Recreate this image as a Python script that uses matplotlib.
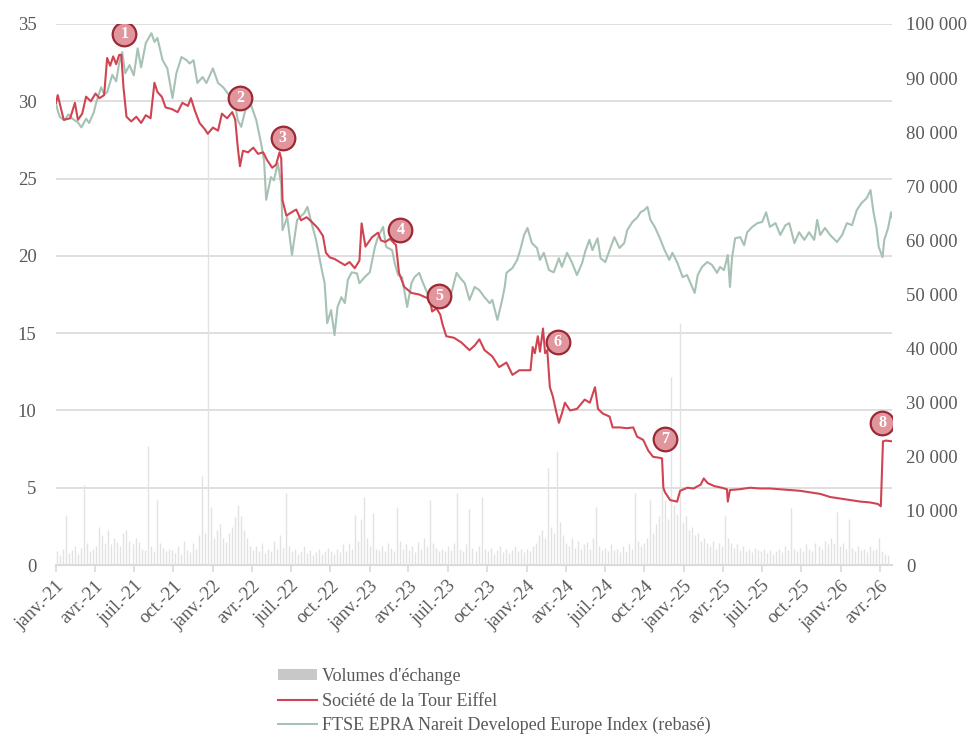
import matplotlib
matplotlib.use("Agg")
import matplotlib.pyplot as plt
from matplotlib.patches import Patch
from matplotlib.lines import Line2D
import numpy as np
import pandas as pd

plt.rcParams["font.family"] = ["Liberation Serif", "DejaVu Serif"]

# --- data ---
# Société de la Tour Eiffel share price, left axis (EUR)
stfe_dates = [
    "2021-01-01", "2021-01-05", "2021-01-12", "2021-01-19", "2021-02-03", "2021-02-14", "2021-02-21",
    "2021-03-03", "2021-03-12", "2021-03-23", "2021-04-03", "2021-04-12", "2021-04-23", "2021-04-30",
    "2021-05-07", "2021-05-14", "2021-05-21", "2021-05-28", "2021-06-02", "2021-06-07", "2021-06-14",
    "2021-06-25", "2021-07-07", "2021-07-18", "2021-07-29", "2021-08-09", "2021-08-18", "2021-08-25",
    "2021-09-04", "2021-09-13", "2021-09-27", "2021-10-11", "2021-10-22", "2021-11-04", "2021-11-11",
    "2021-11-20", "2021-12-01", "2021-12-13", "2021-12-20", "2022-01-01", "2022-01-13", "2022-01-22",
    "2022-02-03", "2022-02-15", "2022-02-22", "2022-02-28", "2022-03-05", "2022-03-12", "2022-03-24",
    "2022-04-05", "2022-04-16", "2022-04-28", "2022-05-07", "2022-05-19", "2022-05-28", "2022-06-05",
    "2022-06-09", "2022-06-12", "2022-06-21", "2022-07-02", "2022-07-14", "2022-07-25", "2022-08-07",
    "2022-08-19", "2022-09-02", "2022-09-14", "2022-09-21", "2022-09-30", "2022-10-11", "2022-10-23",
    "2022-11-04", "2022-11-15", "2022-11-27", "2022-12-08", "2022-12-13", "2022-12-22", "2023-01-06",
    "2023-01-20", "2023-01-27", "2023-02-06", "2023-02-17", "2023-03-03", "2023-03-10", "2023-03-22",
    "2023-04-08", "2023-04-26", "2023-05-12", "2023-05-21", "2023-05-26", "2023-06-05", "2023-06-14",
    "2023-06-19", "2023-06-28", "2023-07-16", "2023-08-02", "2023-08-21", "2023-09-02", "2023-09-13",
    "2023-09-25", "2023-10-13", "2023-10-29", "2023-11-15", "2023-11-29", "2023-12-15", "2024-01-10",
    "2024-01-15", "2024-01-20", "2024-01-27", "2024-02-01", "2024-02-08", "2024-02-13", "2024-02-18",
    "2024-02-24", "2024-03-02", "2024-03-09", "2024-03-16", "2024-03-23", "2024-03-30", "2024-04-11",
    "2024-04-27", "2024-05-15", "2024-05-27", "2024-06-08", "2024-06-15", "2024-06-26", "2024-07-12",
    "2024-07-19", "2024-08-05", "2024-08-21", "2024-09-05", "2024-09-14", "2024-09-28", "2024-10-10",
    "2024-10-21", "2024-11-02", "2024-11-11", "2024-11-14", "2024-11-18", "2024-11-30", "2024-12-16",
    "2024-12-23", "2025-01-09", "2025-01-23", "2025-02-09", "2025-02-16", "2025-02-25", "2025-03-13",
    "2025-03-30", "2025-04-11", "2025-04-13", "2025-04-18", "2025-05-10", "2025-06-04", "2025-06-27",
    "2025-07-20", "2025-08-12", "2025-09-05", "2025-09-28", "2025-10-22", "2025-11-14", "2025-12-07",
    "2025-12-30", "2026-01-23", "2026-02-16", "2026-03-09", "2026-03-28", "2026-04-04", "2026-04-09",
    "2026-04-16", "2026-04-30",
]
stfe_price = [
    29.9, 30.4, 29.6, 28.8, 28.9, 29.9, 28.8,
    29.2, 30.3, 30.0, 30.5, 30.2, 30.4, 32.8,
    32.3, 32.9, 32.4, 33.0, 33.0, 30.9, 29.0,
    28.7, 29.0, 28.6, 29.1, 28.9, 31.2, 30.6,
    30.3, 29.6, 29.5, 29.3, 29.9, 29.7, 30.2,
    29.4, 28.6, 28.2, 27.9, 28.3, 28.1, 29.2,
    28.9, 29.3, 28.8, 27.0, 25.8, 26.8, 26.7,
    27.0, 26.6, 26.7, 26.2, 25.7, 25.9, 26.7,
    26.3, 23.6, 22.6, 22.8, 23.0, 22.3, 22.5,
    22.2, 21.8, 21.3, 20.2, 19.9, 19.8, 19.6,
    19.4, 19.6, 19.2, 19.7, 22.1, 20.6, 21.2,
    21.5, 21.0, 20.9, 21.1, 20.7, 18.9, 18.0,
    17.6, 17.5, 17.3, 17.2, 16.4, 16.6, 16.2,
    15.6, 14.8, 14.7, 14.4, 13.9, 14.2, 14.6,
    13.9, 13.5, 12.8, 13.1, 12.3, 12.6, 12.6,
    14.1, 13.7, 14.8, 13.8, 15.3, 13.7, 13.9,
    11.5, 10.9, 10.0, 9.2, 9.8, 10.5, 10.0,
    10.1, 10.7, 10.5, 11.5, 10.1, 9.8, 9.6,
    8.9, 8.9, 8.85, 8.9, 8.3, 8.1, 7.4,
    7.0, 6.95, 6.9, 5.0, 4.7, 4.2, 4.1,
    4.8, 5.0, 4.95, 5.2, 5.6, 5.3, 5.1,
    5.0, 4.9, 4.1, 4.85, 4.9, 5.0, 4.95,
    4.95, 4.9, 4.85, 4.8, 4.7, 4.6, 4.4,
    4.3, 4.2, 4.1, 4.05, 3.95, 3.8, 8.0,
    8.05, 8.0,
]

# FTSE EPRA Nareit Developed Europe (rebased), right axis
epra_dates = [
    "2021-01-01", "2021-01-05", "2021-01-10", "2021-01-21", "2021-01-30", "2021-02-08", "2021-02-21",
    "2021-03-01", "2021-03-12", "2021-03-19", "2021-03-30", "2021-04-05", "2021-04-16", "2021-04-23",
    "2021-04-30", "2021-05-12", "2021-05-21", "2021-05-28", "2021-06-04", "2021-06-11", "2021-06-21",
    "2021-07-01", "2021-07-10", "2021-07-18", "2021-07-29", "2021-08-11", "2021-08-18", "2021-08-25",
    "2021-09-06", "2021-09-17", "2021-09-29", "2021-10-08", "2021-10-20", "2021-11-01", "2021-11-08",
    "2021-11-17", "2021-11-26", "2021-12-08", "2021-12-17", "2022-01-01", "2022-01-13", "2022-01-25",
    "2022-02-11", "2022-02-22", "2022-02-28", "2022-03-08", "2022-03-19", "2022-03-31", "2022-04-12",
    "2022-04-23", "2022-04-30", "2022-05-05", "2022-05-16", "2022-05-23", "2022-06-01", "2022-06-09",
    "2022-06-12", "2022-06-23", "2022-07-04", "2022-07-16", "2022-08-01", "2022-08-09", "2022-08-15",
    "2022-08-29", "2022-09-10", "2022-09-18", "2022-09-24", "2022-10-03", "2022-10-11", "2022-10-18",
    "2022-10-27", "2022-11-04", "2022-11-11", "2022-11-20", "2022-12-02", "2022-12-08", "2022-12-20",
    "2023-01-01", "2023-01-13", "2023-01-20", "2023-02-01", "2023-02-08", "2023-02-22", "2023-02-28",
    "2023-03-08", "2023-03-17", "2023-03-29", "2023-04-08", "2023-04-15", "2023-04-26", "2023-05-03",
    "2023-05-12", "2023-05-19", "2023-06-01", "2023-06-17", "2023-06-28", "2023-07-10", "2023-07-22",
    "2023-07-29", "2023-08-10", "2023-08-21", "2023-09-02", "2023-09-13", "2023-09-25", "2023-10-07",
    "2023-10-13", "2023-10-25", "2023-11-05", "2023-11-11", "2023-11-15", "2023-11-29", "2023-12-10",
    "2023-12-17", "2023-12-26", "2024-01-03", "2024-01-13", "2024-01-25", "2024-02-01", "2024-02-10",
    "2024-02-22", "2024-03-04", "2024-03-16", "2024-03-23", "2024-04-04", "2024-04-15", "2024-04-27",
    "2024-05-09", "2024-05-16", "2024-05-26", "2024-06-02", "2024-06-14", "2024-06-21", "2024-07-02",
    "2024-07-14", "2024-07-23", "2024-08-04", "2024-08-15", "2024-08-22", "2024-09-03", "2024-09-15",
    "2024-09-22", "2024-10-01", "2024-10-08", "2024-10-15", "2024-10-25", "2024-11-05", "2024-11-17",
    "2024-11-28", "2024-12-05", "2024-12-17", "2024-12-29", "2025-01-08", "2025-01-21", "2025-01-26",
    "2025-02-02", "2025-02-12", "2025-02-24", "2025-03-07", "2025-03-19", "2025-03-26", "2025-04-04",
    "2025-04-13", "2025-04-18", "2025-04-23", "2025-04-30", "2025-05-12", "2025-05-21", "2025-05-28",
    "2025-06-09", "2025-06-21", "2025-07-02", "2025-07-11", "2025-07-20", "2025-08-02", "2025-08-13",
    "2025-08-25", "2025-09-03", "2025-09-15", "2025-09-26", "2025-10-08", "2025-10-19", "2025-10-31",
    "2025-11-07", "2025-11-14", "2025-11-25", "2025-12-07", "2025-12-23", "2026-01-04", "2026-01-15",
    "2026-01-27", "2026-02-07", "2026-02-18", "2026-03-02", "2026-03-11", "2026-03-18", "2026-03-25",
    "2026-03-30", "2026-04-08", "2026-04-12", "2026-04-21", "2026-04-28", "2026-04-30",
]
epra_index = [
    85400, 84000, 82800, 82200, 83300, 82500, 81800,
    80900, 82500, 81700, 83700, 85600, 88300, 87000,
    87400, 90600, 89400, 92800, 94800, 90900, 92400,
    90500, 95500, 92000, 96500, 98300, 96700, 97400,
    93300, 91800, 86300, 90900, 93900, 93300, 92700,
    93300, 89100, 90200, 89100, 91800, 89100, 88300,
    86500, 85000, 82200, 81000, 84600, 85000, 82200,
    78000, 74800, 67500, 71700, 71100, 74300, 70300,
    61900, 64300, 57300, 63800, 65000, 66200, 64300,
    60100, 55100, 52100, 44700, 47100, 42500, 47700,
    49500, 48400, 52700, 54100, 53900, 52100, 53200,
    54100, 58800, 60600, 62500, 58800, 58200, 55800,
    53600, 53200, 47700, 52100, 53200, 54000, 52500,
    50800, 49500, 50300, 48400, 47700, 50300, 54000,
    53200, 52100, 49000, 51400, 50800, 49500, 48400,
    49000, 45300, 49000, 51400, 54000, 54900, 56400,
    58200, 61000, 62300, 59500, 58600, 56400, 57700,
    54500, 54100, 56700, 55100, 57700, 56000, 53600,
    55800, 57900, 60100, 58200, 60400, 56700, 56000,
    58600, 60600, 58600, 59500, 61900, 63400, 64300,
    65200, 65600, 66200, 63800, 62500, 60600, 58200,
    56400, 57700, 55800, 53200, 53600, 51200, 50300,
    53600, 55100, 56000, 55500, 54000, 55100, 54500,
    57300, 51400, 56900, 60400, 60600, 59100, 61500,
    62500, 63200, 63400, 65200, 62500, 63200, 61000,
    62800, 63200, 59500, 61500, 60100, 61500, 60100,
    63800, 61000, 62300, 61000, 59700, 61000, 63200,
    62800, 65600, 66900, 67800, 69300, 65200, 62300,
    58800, 56900, 60100, 62300, 65200, 64300,
]

# trading volumes, weekly, relative height (hidden axis)
volume_start = "2021-01-04"
volumes = [
    2.5, 1.8, 3.0, 9.2, 2.2, 2.8, 3.5, 2.0, 3.2, 14.8, 4.0, 2.5, 3.0,
    3.5, 7.0, 5.5, 4.0, 6.5, 3.8, 5.0, 4.2, 3.6, 6.0, 6.5, 4.5, 3.8,
    5.0, 4.2, 3.0, 2.8, 22.0, 3.5, 2.6, 12.0, 4.0, 3.2, 2.5, 3.0, 2.8,
    2.2, 3.5, 2.0, 4.5, 2.8, 2.4, 4.0, 3.0, 5.5, 16.5, 6.0, 80.0, 10.7,
    5.0, 6.5, 7.5, 5.0, 4.2, 6.0, 7.0, 8.9, 11.0, 9.0, 6.5, 5.0, 3.5,
    2.8, 3.5, 2.5, 4.0, 2.2, 3.0, 2.5, 4.5, 3.0, 5.5, 3.2, 13.3, 3.5,
    2.5, 3.0, 2.0, 2.6, 3.5, 2.2, 2.8, 1.8, 2.4, 3.0, 2.0, 2.6, 3.2,
    2.5, 2.0, 3.0, 2.4, 3.8, 2.6, 4.0, 3.0, 9.2, 4.5, 8.5, 12.6, 5.0,
    3.5, 9.6, 3.0, 2.8, 3.5, 2.6, 4.0, 3.2, 2.5, 10.7, 4.5, 3.0, 3.8,
    2.8, 3.5, 2.4, 4.2, 3.0, 5.0, 3.5, 12.0, 4.0, 3.2, 2.6, 3.0, 2.5,
    3.5, 2.8, 4.0, 13.3, 3.0, 2.5, 3.8, 10.4, 3.2, 2.6, 3.5, 12.6, 3.0,
    2.5, 3.2, 2.0, 2.8, 3.5, 2.4, 3.0, 2.2, 2.8, 3.6, 2.5, 3.0, 2.4,
    3.0, 2.6, 3.5, 4.0, 5.5, 6.5, 5.0, 18.0, 7.0, 6.0, 21.0, 8.0, 5.5,
    4.0, 3.5, 5.0, 3.2, 4.5, 3.0, 3.8, 4.2, 3.0, 5.0, 10.7, 3.5, 2.8,
    3.2, 2.5, 3.8, 2.8, 3.0, 2.4, 3.5, 2.6, 4.0, 3.0, 13.3, 4.5, 3.5,
    4.0, 5.0, 12.0, 6.0, 7.5, 9.0, 15.7, 12.0, 8.5, 34.8, 11.0, 9.5, 44.7,
    8.0, 9.0, 6.5, 7.0, 5.5, 6.0, 4.5, 5.0, 4.0, 3.5, 4.5, 3.0, 4.0,
    3.5, 9.0, 5.0, 4.0, 3.2, 3.8, 2.8, 3.5, 2.6, 3.0, 2.4, 3.2, 2.8,
    2.5, 3.0, 2.2, 2.8, 2.0, 2.6, 3.0, 2.4, 3.5, 2.8, 10.5, 3.0, 2.6,
    3.2, 2.5, 3.8, 3.0, 2.6, 4.0, 3.5, 3.0, 4.5, 3.8, 5.0, 4.0, 9.8,
    3.5, 4.0, 3.0, 8.5, 3.2, 2.6, 3.5, 2.8, 3.0, 2.4, 3.5, 2.8, 3.0,
    5.0, 2.5, 2.0, 1.8,
]

# numbered event markers (date, level on the left axis)
event_labels = ["1", "2", "3", "4", "5", "6", "7", "8"]
event_dates = ["2021-06-09", "2022-03-05", "2022-06-12", "2023-03-13",
               "2023-06-12", "2024-03-13", "2024-11-18", "2026-04-07"]
event_levels = [34.35, 30.2, 27.6, 21.7, 17.4, 14.4, 8.15, 9.2]

MONTHS_FR = {1: "janv.", 4: "avr.", 7: "juil.", 10: "oct."}

RED = "#d04452"
GREEN = "#a7c2b4"
VOL = "#e2e2e2"
GRID = "#d9d9d9"
TXT = "#595959"

fig = plt.figure(figsize=(9.68, 7.37), dpi=100)
ax = fig.add_axes([56 / 968, 1 - 565 / 737, (892 - 56) / 968, (565 - 24) / 737])
axv = ax.twinx()
ax2 = ax.twinx()

# volumes on a hidden axis, behind everything (hairlines, like daily bars)
vol_dates = pd.date_range(volume_start, periods=len(volumes), freq="7D")
axv.vlines(vol_dates, 0, volumes, color=VOL, lw=1.0)
axv.set_ylim(0, 100)
axv.axis("off")

ax2.plot(pd.to_datetime(epra_dates), epra_index, color=GREEN, lw=1.5, zorder=3)
ax2.set_ylim(0, 100000)
ax2.set_yticks(np.arange(0, 100001, 10000))
ax2.set_yticklabels([f"{v:,}".replace(",", " ") for v in range(0, 100001, 10000)])

# red line + markers drawn on a twin so they sit above the index line
ax3 = ax.twinx()
ax3.set_ylim(0, 35)
ax3.axis("off")
ax3.plot(pd.to_datetime(stfe_dates), stfe_price, color=RED, lw=1.5, zorder=4)
for lab, d, v in zip(event_labels, pd.to_datetime(event_dates), event_levels):
    ax3.plot(d, v, marker="o", ms=17, mfc="#e1959d", mec="#9b2a36", mew=1.6, zorder=5)
    ax3.text(d, v, lab, color="white", fontsize=11.5, fontweight="bold",
             ha="center", va="center", zorder=6)

ax.set_ylim(0, 35)
ax.set_yticks(range(0, 36, 5))
ax.grid(axis="y", color=GRID, lw=1.2)
ax.set_axisbelow(True)
ax.set_zorder(axv.get_zorder() - 1)
ax.patch.set_visible(False)

start, end = pd.Timestamp("2021-01-01"), pd.Timestamp("2026-04-30")
for a in (ax, axv, ax2, ax3):
    a.set_xlim(start, end)

ticks = pd.date_range("2021-01-01", "2026-04-01", freq="3MS")
ax.set_xticks(ticks)
ax.set_xticklabels([f"{MONTHS_FR[t.month]}-{t.strftime('%y')}" for t in ticks],
                   rotation=45, ha="right", rotation_mode="anchor")

for a in (ax, ax2):
    for s in a.spines.values():
        s.set_visible(False)
ax.spines["bottom"].set_visible(True)
ax.spines["bottom"].set_color(GRID)
ax.spines["bottom"].set_linewidth(1.5)

ax.tick_params(axis="y", length=0, pad=14, labelsize=13.5, labelcolor=TXT)
ax.tick_params(axis="x", length=5, color=GRID, width=1.2, pad=4, labelsize=13.5, labelcolor=TXT)
ax2.tick_params(axis="y", length=0, pad=10, labelsize=13.5, labelcolor=TXT)

handles = [
    Patch(facecolor="#c8c8c8", edgecolor="none"),
    Line2D([], [], color=RED, lw=1.5),
    Line2D([], [], color=GREEN, lw=1.5),
]
labels = ["Volumes d'échange", "Société de la Tour Eiffel",
          "FTSE EPRA Nareit Developed Europe Index (rebasé)"]
fig.legend(handles, labels, loc="upper left", bbox_to_anchor=(278 / 968, 1 - 668 / 737),
           frameon=False, fontsize=13, labelcolor=TXT, handlelength=2.17,
           handleheight=0.6, handletextpad=0.28, labelspacing=0.42, borderpad=0,
           borderaxespad=0)

fig.savefig("out.png", dpi=100)
